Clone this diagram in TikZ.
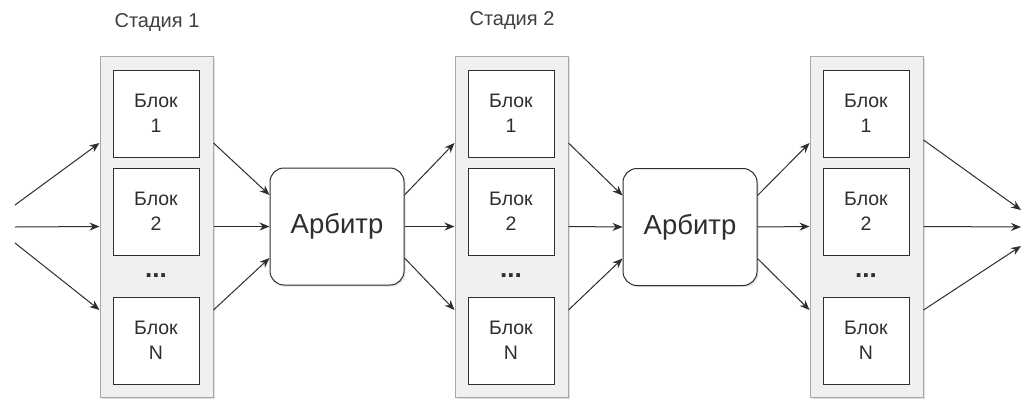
\documentclass[tikz,border=0pt]{standalone}
\usepackage{fontspec}
\setmainfont{Liberation Sans}
\usetikzlibrary{arrows.meta,calc,shadows}
\definecolor{ln}{HTML}{2E2E2E}
\definecolor{boxfill}{HTML}{F0F0F0}
\definecolor{boxline}{HTML}{A8A8A8}
\definecolor{lbl}{HTML}{404040}
\begin{document}
\begin{tikzpicture}[x=1pt,y=-1pt,
  stagebox/.style={draw=boxline, fill=boxfill, line width=1pt, minimum width=113pt, minimum height=341pt, inner sep=0pt,
    drop shadow={shadow xshift=1.5pt, shadow yshift=-1.5pt, opacity=0.25}},
  blockbox/.style={draw=ln, fill=white, line width=0.9pt, minimum width=86pt, minimum height=87pt, inner sep=0pt,
    align=center, text=ln, font=\fontsize{19.5}{25}\selectfont},
  arbbox/.style={draw=ln, fill=white, line width=1pt, rounded corners=14pt, minimum width=134pt, minimum height=117pt,
    inner sep=0pt, text=ln, font=\fontsize{27.5}{30}\selectfont,
    drop shadow={shadow xshift=1.5pt, shadow yshift=-1.5pt, opacity=0.25}},
  dots/.style={text=ln, font=\fontsize{26}{26}\selectfont\bfseries, inner sep=0pt},
  stagelbl/.style={text=lbl, font=\fontsize{20}{22}\selectfont},
  conn/.style={draw=ln, line width=1pt, -{Stealth[length=10pt,width=8pt]}}]
\useasboundingbox (0,0) rectangle (1023,400);
\fill[white] (0,0) rectangle (1023,400);

\foreach \i/\dx in {1/0,2/355,3/710}{
  \node[stagebox] (s\i) at (156.5+\dx,226.5) {};
  \node[blockbox] (b\i a) at (156+\dx,113.5) {Блок\\1};
  \node[blockbox] (b\i b) at (156+\dx,211.5) {Блок\\2};
  \node[dots] (d\i) at (156+\dx,276) {...};
  \node[blockbox] (b\i n) at (156+\dx,340.5) {Блок\\N};
}
\node[stagelbl] (l1) at (157,23) {Стадия 1};
\node[stagelbl] (l2) at (512,21) {Стадия 2};

\node[arbbox] (a1) at (337,226.5) {Арбитр};
\node[arbbox] (a2) at (690,227) {Арбитр};

% inputs
\coordinate (i1) at (15,205);
\coordinate (i2) at (15,227);
\coordinate (i3) at (15,243);
\draw[conn] (i1) -- ([yshift=83.5pt]s1.west);
\draw[conn] (i2) -- (s1.west);
\draw[conn] (i3) -- ([yshift=-83.5pt]s1.west);

% stages to arbiters and arbiters to stages
\foreach \s/\a/\t in {1/1/2,2/2/3}{
  \draw[conn] ([yshift=83.5pt]s\s.east) -- ([yshift=31.5pt]a\a.west);
  \draw[conn] (s\s.east) -- (a\a.west);
  \draw[conn] ([yshift=-83.5pt]s\s.east) -- ([yshift=-31.5pt]a\a.west);
  \draw[conn] ([yshift=31.5pt]a\a.east) -- ([yshift=83.5pt]s\t.west);
  \draw[conn] (a\a.east) -- (s\t.west);
  \draw[conn] ([yshift=-31.5pt]a\a.east) -- ([yshift=-83.5pt]s\t.west);
}

% outputs
\coordinate (o1) at (1021,210);
\coordinate (o2) at (1021,227);
\coordinate (o3) at (1021,246);
\draw[conn] ([yshift=86.5pt]s3.east) -- (o1);
\draw[conn] (s3.east) -- (o2);
\draw[conn] ([yshift=-83.5pt]s3.east) -- (o3);
\end{tikzpicture}
\end{document}
